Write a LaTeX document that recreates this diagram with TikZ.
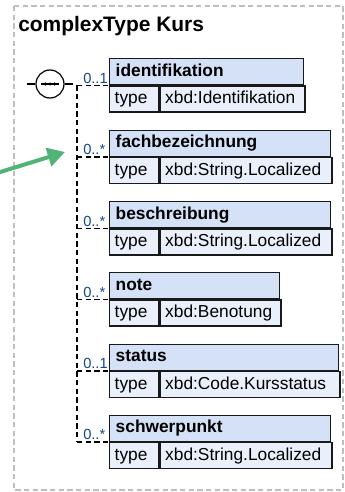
\documentclass[tikz,border=0pt]{standalone}
\usepackage{fontspec}
\setmainfont{Liberation Sans}
\usepackage{xcolor}
\usepackage{tikz}
\usetikzlibrary{arrows.meta,positioning}
\definecolor{hdrblue}{RGB}{213,225,246}
\definecolor{typblue}{RGB}{233,239,251}
\definecolor{multblue}{RGB}{20,70,140}
\definecolor{arrowgreen}{RGB}{82,179,118}
\definecolor{framegray}{RGB}{190,190,190}
\tikzset{
  hdr/.style={draw=black!90,line width=1.1pt,fill=hdrblue,anchor=north west,inner xsep=4.5pt,inner ysep=3.65pt,
    text height=9.5pt,text depth=2.7pt,align=left,text width=#1,font=\bfseries\fontsize{13}{15}\selectfont},
  cell/.style={draw=black!90,line width=1.1pt,fill=typblue,anchor=north west,inner xsep=3.75pt,inner ysep=3.65pt,
    text height=9.5pt,text depth=2.7pt,align=left,text width=#1,font=\fontsize{13}{15}\selectfont},
  mult/.style={anchor=south west,inner sep=0pt,xshift=4.5pt,yshift=1.5pt,text=multblue,font=\fontsize{11}{12}\selectfont},
  conn/.style={line width=1pt,dash pattern=on 4pt off 2.5pt}
}
\begin{document}
\begin{tikzpicture}[x=0.75pt,y=-0.75pt]
	\useasboundingbox (0,0) rectangle (345,492);
	\draw[framegray,line width=0.8pt,dash pattern=on 4pt off 2.5pt] (14,6) rectangle (343,490);
	\node[anchor=base west,inner sep=0pt,font=\bfseries\fontsize{15.7}{18}\selectfont] (title) at (18,32) {complexType Kurs};

	\node[draw,circle,line width=0.9pt,minimum size=21pt,inner sep=0pt] (seq) at (50,84) {};
	\coordinate (in) at (27,84);
	\coordinate (out) at (73,84);
	\draw[line width=0.9pt] (in) -- (seq.west);
	\draw[line width=0.9pt] (seq.east) -- (out);
	\draw[line width=0.9pt] ([xshift=-7pt]seq.center) -- ([xshift=7pt]seq.center);
	\fill ([xshift=-3.5pt]seq.center) circle (1.3pt);
	\fill (seq.center) circle (1.3pt);
	\fill ([xshift=3.5pt]seq.center) circle (1.3pt);

	\node[hdr=136.5pt] (idf) at (109,58) {identifikation};
	\node[cell=29.25pt] (idft) at (idf.south west) {type};
	\node[cell=101.25pt] (idfv) at (idft.north east) {xbd:Identifikation};

	\node[hdr=156.75pt] (fach) at (109,129.5) {fachbezeichnung};
	\node[cell=29.25pt] (facht) at (fach.south west) {type};
	\node[cell=121.5pt] (fachv) at (facht.north east) {xbd:String.Localized};

	\node[hdr=156.75pt] (besch) at (109,201) {beschreibung};
	\node[cell=29.25pt] (bescht) at (besch.south west) {type};
	\node[cell=121.5pt] (beschv) at (bescht.north east) {xbd:String.Localized};

	\node[hdr=118.5pt] (note) at (109,272) {note};
	\node[cell=29.25pt] (notet) at (note.south west) {type};
	\node[cell=83.25pt] (notev) at (notet.north east) {xbd:Benotung};

	\node[hdr=162.75pt] (stat) at (109,343.5) {status};
	\node[cell=29.25pt] (statt) at (stat.south west) {type};
	\node[cell=127.5pt] (statv) at (statt.north east) {xbd:Code.Kursstatus};

	\node[hdr=156.75pt] (schw) at (109,414.5) {schwerpunkt};
	\node[cell=29.25pt] (schwt) at (schw.south west) {type};
	\node[cell=121.5pt] (schwv) at (schwt.north east) {xbd:String.Localized};

	\coordinate (spine) at (77,0);
	\draw[conn] (idf.south west -| spine) -- (schw.south west -| spine);
	\draw[conn] (idf.south west -| spine) -- (idf.south west);
	\draw[conn] (fach.south west -| spine) -- (fach.south west);
	\draw[conn] (besch.south west -| spine) -- (besch.south west);
	\draw[conn] (note.south west -| spine) -- (note.south west);
	\draw[conn] (stat.south west -| spine) -- (stat.south west);
	\draw[conn] (schw.south west -| spine) -- (schw.south west);
	\node[mult] (m1) at (idf.south west -| spine) {0..1};
	\node[mult] (m2) at (fach.south west -| spine) {0..*};
	\node[mult] (m3) at (besch.south west -| spine) {0..*};
	\node[mult] (m4) at (note.south west -| spine) {0..*};
	\node[mult] (m5) at (stat.south west -| spine) {0..1};
	\node[mult] (m6) at (schw.south west -| spine) {0..*};

	\coordinate (atail) at (-3,173);
	\coordinate (ahead) at (65,152);
	\draw[-{Triangle[length=13pt,width=14pt]},line width=3pt,arrowgreen] (atail) -- (ahead);
\end{tikzpicture}
\end{document}
